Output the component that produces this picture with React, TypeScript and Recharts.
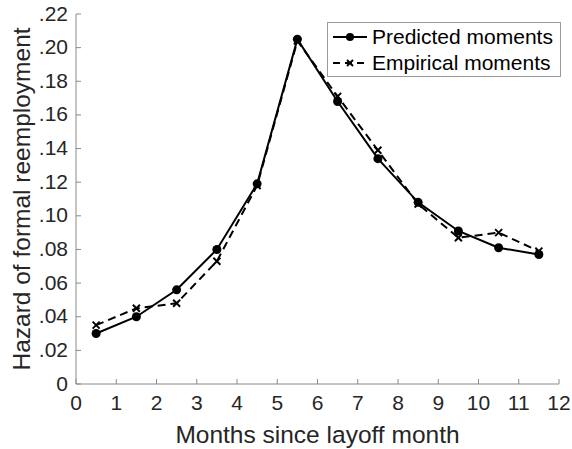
import { LineChart, Line, XAxis, YAxis, Legend } from "recharts";

const months = [0.5, 1.5, 2.5, 3.5, 4.5, 5.5, 6.5, 7.5, 8.5, 9.5, 10.5, 11.5];
const predicted = [0.030, 0.040, 0.056, 0.080, 0.119, 0.205, 0.168, 0.134, 0.108, 0.091, 0.081, 0.077];
const empirical = [0.035, 0.045, 0.048, 0.073, 0.118, 0.204, 0.171, 0.139, 0.107, 0.087, 0.090, 0.079];
const xTicks = [0, 1, 2, 3, 4, 5, 6, 7, 8, 9, 10, 11, 12];
const yTicks = [0, 0.02, 0.04, 0.06, 0.08, 0.1, 0.12, 0.14, 0.16, 0.18, 0.2, 0.22];

const data = months.map((m, i) => ({ month: m, predicted: predicted[i], empirical: empirical[i] }));

const FONT = "'Liberation Sans', Arial, Helvetica, sans-serif";
const TEXT = "#262626";
const AXIS = "#8a8a8a";

const fmtY = (v: number) => (v === 0 ? "0" : "." + String(Math.round(v * 100)).padStart(2, "0"));

function XTick({ x, y, payload }: any) {
  return (
    <g>
      <line x1={x} x2={x} y1={y} y2={y - 5} stroke={AXIS} strokeWidth={1} />
      <text x={x} y={y + 20} textAnchor="middle" dominantBaseline="middle" fontSize={21} fill={TEXT} fontFamily={FONT}>
        {payload.value}
      </text>
    </g>
  );
}

function YTick({ x, y, payload }: any) {
  return (
    <g>
      <line x1={x} x2={x + 5} y1={y} y2={y} stroke={AXIS} strokeWidth={1} />
      <text x={x - 8} y={y + 1} textAnchor="end" dominantBaseline="middle" fontSize={21} fill={TEXT} fontFamily={FONT}>
        {fmtY(payload.value)}
      </text>
    </g>
  );
}

function Dot({ cx, cy }: any) {
  return <circle cx={cx} cy={cy} r={4.5} fill="#000" />;
}

function Cross({ cx, cy }: any) {
  const s = 3.5;
  return (
    <g stroke="#000" strokeWidth={2}>
      <line x1={cx - s} y1={cy - s} x2={cx + s} y2={cy + s} />
      <line x1={cx - s} y1={cy + s} x2={cx + s} y2={cy - s} />
    </g>
  );
}

function LegendBox() {
  return (
    <div
      style={{
        width: 234,
        height: 55,
        border: "1px solid #9a9a9a",
        background: "#fff",
        fontFamily: FONT,
        fontSize: 21,
        color: "#000",
        boxSizing: "border-box",
        padding: "1px 0 0 4px",
        textAlign: "left",
      }}
    >
      <div style={{ display: "flex", alignItems: "center", height: 26 }}>
        <svg width={36} height={12} style={{ marginRight: 4 }}>
          <line x1={1} x2={35} y1={6} y2={6} stroke="#000" strokeWidth={2} />
          <circle cx={18} cy={6} r={4} fill="#000" />
        </svg>
        <span>Predicted moments</span>
      </div>
      <div style={{ display: "flex", alignItems: "center", height: 26 }}>
        <svg width={36} height={12} style={{ marginRight: 4 }}>
          <line x1={1} x2={35} y1={6} y2={6} stroke="#000" strokeWidth={2} strokeDasharray="7 5" />
          <g stroke="#000" strokeWidth={2}>
            <line x1={15} y1={3} x2={21} y2={9} />
            <line x1={15} y1={9} x2={21} y2={3} />
          </g>
        </svg>
        <span>Empirical moments</span>
      </div>
    </div>
  );
}

export default function App() {
  return (
    <div style={{ width: 572, height: 449, background: "#fff", position: "relative" }}>
      <style>{"body{margin:0}"}</style>
      <LineChart width={572} height={449} data={data} margin={{ top: 14, right: 13, left: 0, bottom: 0 }}>
        <XAxis
          dataKey="month"
          type="number"
          domain={[0, 12]}
          ticks={xTicks}
          interval={0}
          height={65}
          tickSize={0}
          tickMargin={0}
          tickLine={false}
          stroke={AXIS}
          tick={<XTick />}
          label={{ value: "Months since layoff month", position: "insideBottom", offset: 6, fontSize: 24.5, fill: TEXT, fontFamily: FONT }}
        />
        <YAxis
          type="number"
          domain={[0, 0.22]}
          ticks={yTicks}
          interval={0}
          width={76}
          tickSize={0}
          tickMargin={0}
          tickLine={false}
          stroke={AXIS}
          tick={<YTick />}
          label={{ value: "Hazard of formal reemployment", angle: -90, position: "insideLeft", offset: 21, fontSize: 24.5, fill: TEXT, fontFamily: FONT, style: { textAnchor: "middle" } }}
        />
        <Legend
          layout="horizontal"
          verticalAlign="middle"
          align="center"
          content={<LegendBox />}
          wrapperStyle={{ top: 22, left: 327, width: 234 }}
        />
        <Line
          dataKey="empirical"
          stroke="#000"
          strokeWidth={2}
          strokeDasharray="8 5"
          dot={<Cross />}
          activeDot={false}
          isAnimationActive={false}
        />
        <Line
          dataKey="predicted"
          stroke="#000"
          strokeWidth={2}
          dot={<Dot />}
          activeDot={false}
          isAnimationActive={false}
        />
      </LineChart>
    </div>
  );
}
